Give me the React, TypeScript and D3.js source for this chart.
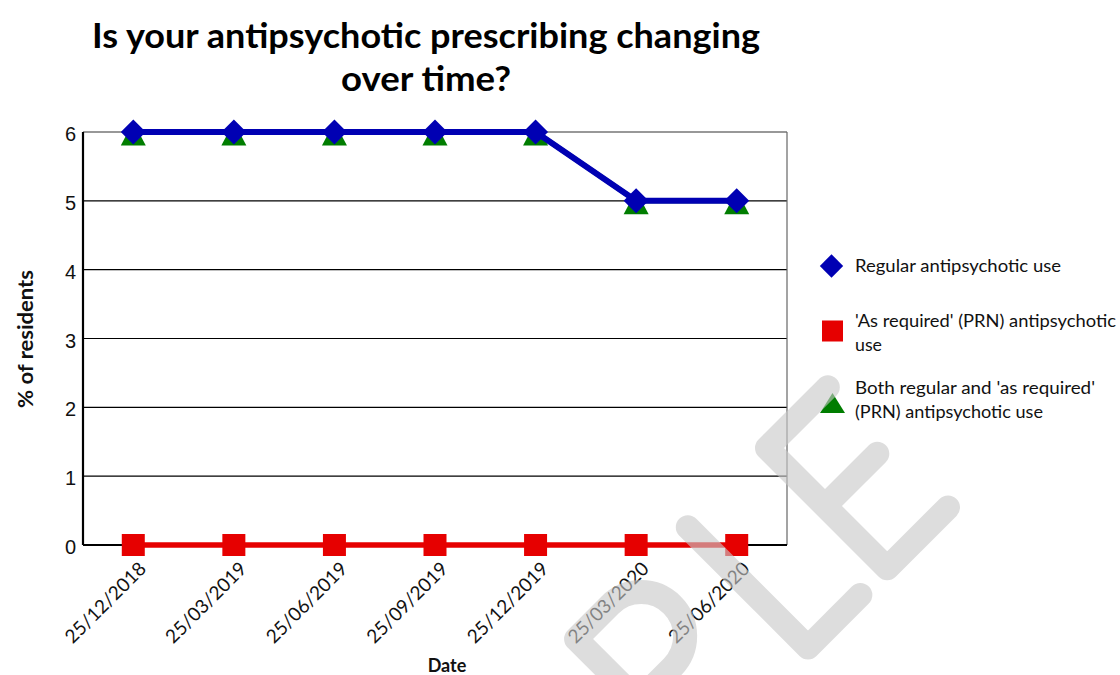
import * as React from 'react';
import * as d3 from 'd3';

const dates = ['25/12/2018', '25/03/2019', '25/06/2019', '25/09/2019', '25/12/2019', '25/03/2020', '25/06/2020'];
const regularUse = [6, 6, 6, 6, 6, 5, 5];
const prnUse = [0, 0, 0, 0, 0, 0, 0];
const bothUse = [6, 6, 6, 6, 6, 5, 5];
const yTicks = [0, 1, 2, 3, 4, 5, 6];

const titleLines = ['Is your antipsychotic prescribing changing', 'over time?'];
const legendItems = [
    { shape: 'diamond', lines: ['Regular antipsychotic use'] },
    { shape: 'square', lines: ["'As required' (PRN) antipsychotic", 'use'] },
    { shape: 'triangle', lines: ["Both regular and 'as required'", '(PRN) antipsychotic use'] },
];

const BLUE = '#0000b3';
const RED = '#e60000';
const GREEN = '#007d00';
const FONT = 'Lato, "Open Sans", sans-serif';

const W = 1120;
const H = 675;
const margin = { top: 132, right: 333, bottom: 130, left: 83 };

export default function App() {
    const plotW = W - margin.left - margin.right;
    const plotH = H - margin.top - margin.bottom;

    // categories sit in the middle of equal bands
    const x = d3.scaleBand<string>().domain(dates).range([margin.left, margin.left + plotW]);
    const cx = (d: string) => (x(d) as number) + x.bandwidth() / 2;
    const y = d3.scaleLinear().domain([0, 6]).range([margin.top + plotH, margin.top]);

    const line = d3.line<number>()
        .x((_, i) => cx(dates[i]))
        .y((v) => y(v));

    const diamond = (px: number, py: number, r: number) =>
        `M${px},${py - r}L${px + r},${py}L${px},${py + r}L${px - r},${py}Z`;
    const triangle = (px: number, py: number) =>
        `M${px},${py - 10}L${px + 12.5},${py + 13.5}L${px - 12.5},${py + 13.5}Z`;

    const legendY = [266, 331, 403];
    const legendTextY = [[272], [327, 351], [394, 418]];
    const legendWidths = [[206], [261, 27], [240, 188]];

    return (
        <svg width={W} height={H} style={{ position: 'absolute', left: 0, top: 0, background: '#fff' }}>
            <rect width={W} height={H} fill="#fff" />

            {/* title */}
            {titleLines.map((t, i) => (
                <text key={t} x={426} y={48 + i * 43} textAnchor="middle" fontFamily={FONT}
                    fontWeight="bold" fontSize={34} fill="#000"
                    textLength={i === 0 ? 668 : 170} lengthAdjust="spacingAndGlyphs">{t}</text>
            ))}

            {/* gridlines */}
            {yTicks.map((t) => (
                <line key={t} x1={margin.left} x2={margin.left + plotW} y1={y(t)} y2={y(t)}
                    stroke={t === 6 ? '#333' : '#000'} strokeWidth={1.2} />
            ))}
            <line x1={margin.left + plotW} x2={margin.left + plotW} y1={margin.top} y2={margin.top + plotH}
                stroke="#666" strokeWidth={1.2} />
            <line x1={margin.left} x2={margin.left} y1={margin.top} y2={margin.top + plotH}
                stroke="#000" strokeWidth={2.2} />
            <line x1={margin.left} x2={margin.left + plotW} y1={y(0)} y2={y(0)} stroke="#000" strokeWidth={2.2} />

            {/* y tick labels */}
            {yTicks.map((t) => (
                <text key={t} x={76} y={y(t) + 9} textAnchor="end" fontFamily='"Liberation Sans", Arial, sans-serif'
                    fontSize={20} fill="#111">{t}</text>
            ))}

            {/* x tick labels */}
            {dates.map((d) => (
                <text key={d} transform={`translate(${cx(d) + 14},${y(0) + 25}) rotate(-45)`} textAnchor="end"
                    fontFamily={FONT} fontSize={19} fill="#111">{d}</text>
            ))}

            {/* axis titles */}
            <text x={447} y={672} textAnchor="middle" fontFamily={FONT} fontWeight="bold" fontSize={18} fill="#111">Date</text>
            <text transform={`translate(33,339) rotate(-90)`} textAnchor="middle" fontFamily={FONT}
                fontWeight="bold" fontSize={20} fill="#111" textLength={138} lengthAdjust="spacingAndGlyphs">% of residents</text>

            {/* series */}
            <path d={line(bothUse) || ''} fill="none" stroke={GREEN} strokeWidth={5} />
            {bothUse.map((v, i) => (
                <path key={'g' + i} d={triangle(cx(dates[i]), y(v))} fill={GREEN} />
            ))}
            <path d={line(regularUse) || ''} fill="none" stroke={BLUE} strokeWidth={6} strokeLinejoin="round" />
            {regularUse.map((v, i) => (
                <path key={'b' + i} d={diamond(cx(dates[i]), y(v), 12.5)} fill={BLUE} />
            ))}
            <path d={line(prnUse) || ''} fill="none" stroke={RED} strokeWidth={5.5} />
            {prnUse.map((v, i) => (
                <rect key={'r' + i} x={cx(dates[i]) - 11.5} y={y(v) - 11} width={23} height={22} fill={RED} />
            ))}

            {/* legend */}
            {legendItems.map((item, i) => (
                <g key={item.shape}>
                    {item.shape === 'diamond' && <path d={diamond(831.5, legendY[i], 11.7)} fill={BLUE} />}
                    {item.shape === 'square' && <rect x={822} y={legendY[i] - 10.5} width={21} height={21} fill={RED} />}
                    {item.shape === 'triangle' && (
                        <path d={`M832.5,${legendY[i] - 10}L845,${legendY[i] + 10}L820,${legendY[i] + 10}Z`} fill={GREEN} />
                    )}
                    {item.lines.map((l, j) => (
                        <text key={l} x={855} y={legendTextY[i][j]} fontFamily={FONT} fontSize={18} fill="#111"
                            textLength={legendWidths[i][j]} lengthAdjust="spacingAndGlyphs">{l}</text>
                    ))}
                </g>
            ))}

            {/* watermark */}
            <g transform="translate(767,448) rotate(-45)" fill="none" stroke="#c8c8c8" strokeOpacity={0.62}
                strokeWidth={24} strokeLinecap="round" strokeLinejoin="round">
                <path d="M-270,170L-270,0L-222,0A44,44 0 0 1 -222,88L-270,88" />
                <path d="M-112,0L-112,170L-38,170" />
                <path d="M86,0L0,0L0,170L86,170M0,82L74,82" />
            </g>
        </svg>
    );
}
